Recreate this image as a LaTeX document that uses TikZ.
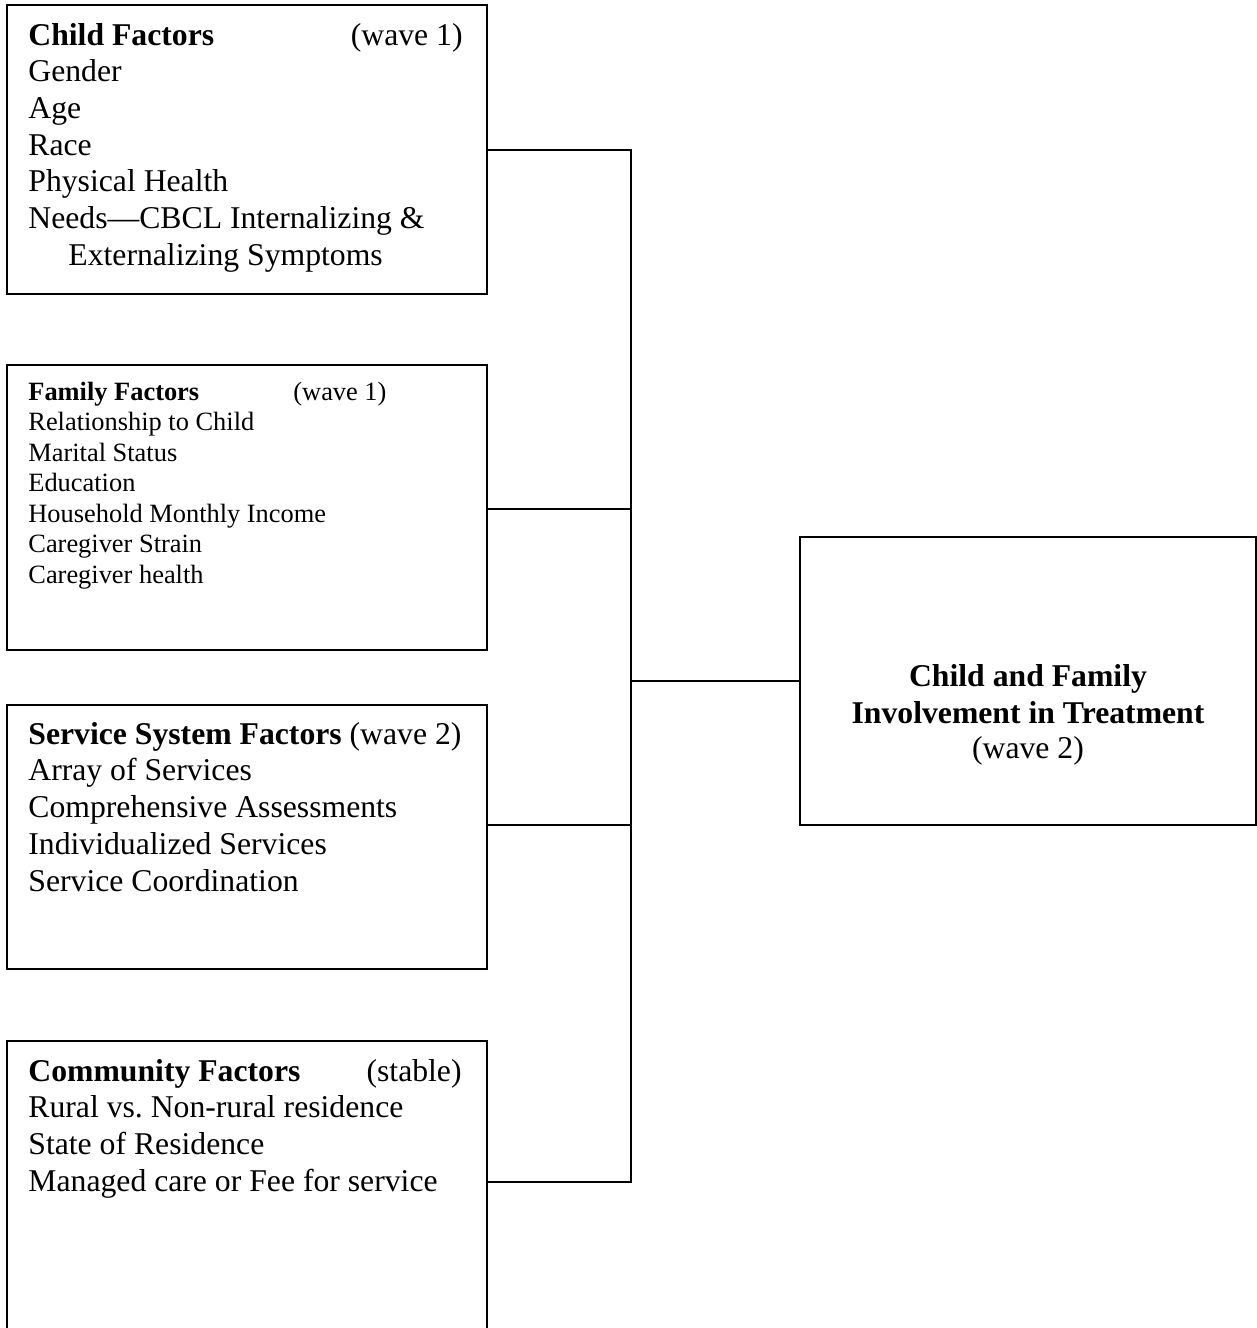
\documentclass[tikz,border=0pt]{standalone}
\usepackage{fontspec}
\setmainfont{Liberation Serif}
\usetikzlibrary{fit}
\frenchspacing
\begin{document}
\begin{tikzpicture}[x=0.5pt,y=-0.5pt,
  box/.style={draw, line width=1pt, inner sep=0pt},
  conn/.style={line width=1pt},
  big/.style={font=\fontsize{15.85}{18}\selectfont, anchor=base west, inner sep=0pt},
  bigb/.style={font=\fontsize{15.85}{18}\selectfont\bfseries, anchor=base west, inner sep=0pt},
  small/.style={font=\fontsize{13.2}{15}\selectfont, anchor=base west, inner sep=0pt},
  smallb/.style={font=\fontsize{13.2}{15}\selectfont\bfseries, anchor=base west, inner sep=0pt}]
\useasboundingbox (0,0) rectangle (1257,1328);

% boxes
\node[box, fit={(7,5) (487,294)}] (child) {};
\node[box, fit={(7,365) (487,650)}] (family) {};
\node[box, fit={(7,705) (487,969)}] (service) {};
\node[box, fit={(7,1041) (487,1345)}] (community) {};
\node[box, fit={(800,537) (1256,825)}] (outcome) {};

% child factors
\node[bigb] (ct) at (28,45) {Child Factors};
\node[big, anchor=base east] (cw) at (463,45) {(wave 1)};
\foreach \t [count=\i] in {Gender,Age,Race,Physical Health,Needs—CBCL Internalizing \&}
  \node[big] (c\i) at (28,{45+\i*36.7}) {\t};
\node[big] (c6) at (68,265) {Externalizing Symptoms};

% family factors
\node[smallb] (ft) at (28,400) {Family Factors};
\node[small] (fw) at (293,400) {(wave 1)};
\foreach \t [count=\i] in {Relationship to Child,Marital Status,Education,Household Monthly Income,Caregiver Strain,Caregiver health}
  \node[small] (f\i) at (28,{400+\i*30.55}) {\t};

% service system factors
\node[big] (st) at (28,744) {\textbf{Service System Factors} (wave 2)};
\foreach \t [count=\i] in {Array of Services,Comprehensive Assessments,Individualized Services,Service Coordination}
  \node[big] (s\i) at (28,{744+\i*36.75}) {\t};

% community factors
\node[bigb] (mt) at (28,1081) {Community Factors};
\node[big, anchor=base east] (mw) at (462,1081) {(stable)};
\foreach \t [count=\i] in {Rural vs. Non-rural residence,State of Residence,Managed care or Fee for service}
  \node[big] (m\i) at (28,{1081+\i*36.7}) {\t};

% outcome
\node[bigb, anchor=base] (o1) at (1028,686.7) {Child and Family};
\node[bigb, anchor=base] (o2) at (1028,723) {Involvement in Treatment};
\node[big, anchor=base] (o3) at (1028,758) {(wave 2)};

% connectors
\coordinate (bus) at (631,0);
\coordinate (r1) at (0,150);
\coordinate (r2) at (0,509);
\coordinate (r3) at (0,825);
\coordinate (r4) at (0,1182);
\draw[conn] (child.east |- r1) -- (bus |- r1) -- (bus |- r4) -- (community.east |- r4);
\draw[conn] (family.east |- r2) -- (bus |- r2);
\draw[conn] (service.east |- r3) -- (bus |- r3);
\draw[conn] (outcome.west) -- (bus |- outcome.west);
\end{tikzpicture}
\end{document}
